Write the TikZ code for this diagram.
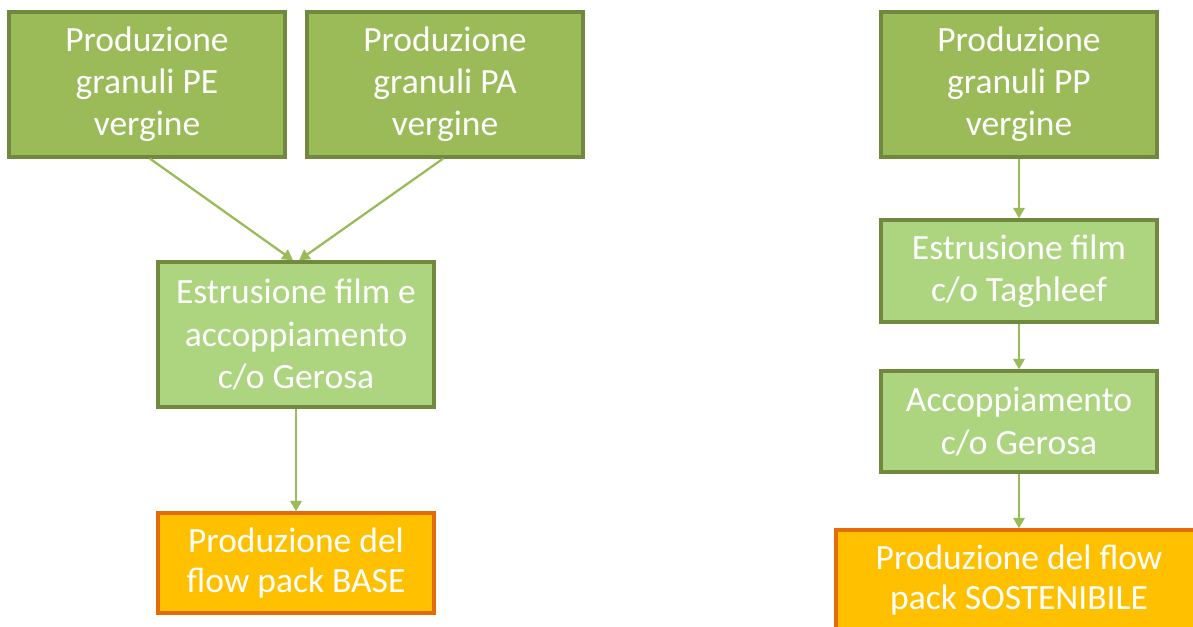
\documentclass[tikz,border=0pt]{standalone}
\usepackage{fontspec}
\setmainfont{Carlito}
\usetikzlibrary{arrows.meta}
\definecolor{verdescuro}{HTML}{9BBB59}
\definecolor{bordoscuro}{HTML}{71893F}
\definecolor{verdechiaro}{HTML}{ADD580}
\definecolor{arancio}{HTML}{FFC000}
\definecolor{bordoarancio}{HTML}{E36C09}
\begin{document}
\begin{tikzpicture}
                            [freccia/.style = {draw=verdescuro, line width=1.3pt,
                                        -{Triangle[width=6.5pt,length=6pt]}},
                            blocco/.style = {rectangle, line width=1.9pt,
                                        minimum width=5.52cm, align=center,
                                        text=white, font=\fontsize{20.2}{24}\selectfont},
                            granuli/.style = {blocco, fill=verdescuro, draw=bordoscuro,
                                        minimum height=2.9cm},
                            fase/.style = {blocco, fill=verdechiaro, draw=bordoscuro},
                            finale/.style = {blocco, fill=arancio, draw=bordoarancio,
                                        minimum height=2cm, font=\fontsize{20.2}{22.5}\selectfont}]
                            \useasboundingbox (0,0) rectangle (23.86,-12.52);
                            \clip (0,0) rectangle (23.86,-12.52);
                            % Filiera BASE
                            \node[granuli] (PE) at (2.94,-1.69) {Produzione\\granuli PE\\vergine};
                            \node[granuli] (PA) at (8.90,-1.69) {Produzione\\granuli PA\\vergine};
                            \node[fase,minimum height=2.9cm] (EG) at (5.92,-6.69) {Estrusione film e\\accoppiamento\\c/o Gerosa};
                            \node[finale] (B) at (5.92,-11.26) {Produzione del\\flow pack BASE};
                            % Filiera SOSTENIBILE
                            \node[granuli] (PP) at (20.38,-1.69) {Produzione\\granuli PP\\vergine};
                            \node[fase,minimum height=2.04cm] (ET) at (20.38,-5.42) {Estrusione film\\c/o Taghleef};
                            \node[fase,minimum height=2.02cm] (AG) at (20.38,-8.43) {Accoppiamento\\c/o Gerosa};
                            \node[finale,minimum width=7.32cm] (S) at (20.38,-11.6) {Produzione del flow\\pack SOSTENIBILE};
                            % Frecce
                            \draw[freccia] ([xshift=0.06cm]PE.south) -- ([xshift=-0.06cm]EG.north);
                            \draw[freccia] ([xshift=-0.04cm]PA.south) -- ([xshift=0.06cm]EG.north);
                            \draw[freccia] (EG) -- (B);
                            \draw[freccia] (PP) -- (ET);
                            \draw[freccia] (ET) -- (AG);
                            \draw[freccia] (AG) -- (S);
                        \end{tikzpicture}
\end{document}
